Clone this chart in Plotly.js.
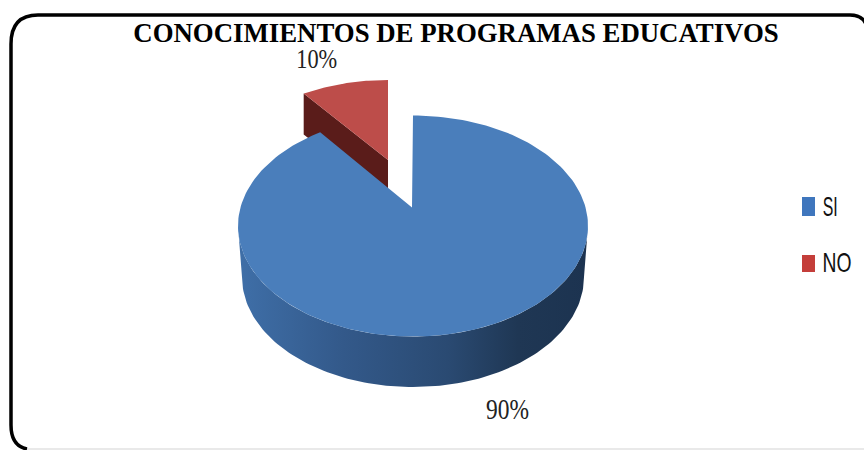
<!DOCTYPE html>
<html>
<head>
<meta charset="utf-8">
<script src="https://cdn.plot.ly/plotly-3.0.1.min.js"></script>
<style>html,body{margin:0;padding:0;background:#fff;overflow:hidden}</style>
</head>
<body>
<div id="chart" style="width:864px;height:450px"></div>
<script>
const chartTitle = 'CONOCIMIENTOS DE PROGRAMAS EDUCATIVOS';
const categories = ['SI', 'NO'];
const values = [90, 10];

const total = values[0] + values[1];
const noShare = values[1] / total;
function arc(cx, cy, rx, ry, from, to, n) {
  const xs = [], ys = [];
  for (let i = 0; i <= n; i++) {
    const t = (from + (to - from) * i / n) * Math.PI / 180;
    xs.push(cx + rx * Math.sin(t));
    ys.push(cy - ry * Math.cos(t));
  }
  return [xs, ys];
}
const siGap = 360 * noShare * 0.89, noSweep = 360 * noShare * 0.8;

// SI top face
const [sx, sy] = arc(413, 226, 175, 110.5, 0, 360 - siGap, 200);
const siTopX = [412, ...sx, 412], siTopY = [207.5, ...sy, 207.5];
// SI side wall
const [bx, by] = arc(413, 277, 171, 110, 90 + 180, 90, 120);
const [tx, ty] = arc(413, 226, 175, 110.5, 90, 270, 120);
const sideX = [...bx, ...tx], sideY = [...by, ...ty];
// NO top face
const [nx, ny] = arc(388, 190, 175, 110, -noSweep, 0, 40);
const noTopX = [388, ...nx, 388], noTopY = [160, ...ny, 160];
// NO cut wall
const cutX = [nx[0], 388, 388, nx[0]], cutY = [ny[0], 160, 200, ny[0] + 41];

function poly(x, y, name, fill, extra) {
  return Object.assign({x, y, name, type: 'scatter', mode: 'lines', fill: 'toself',
    fillcolor: fill, line: {width: 0, color: fill}, hoverinfo: 'name', showlegend: false}, extra || {});
}
const traces = [
  poly(cutX, cutY, categories[1], '#5a1c1a'),
  poly(noTopX, noTopY, categories[1], '#bd4d4a'),
  poly(sideX, sideY, categories[0], '#2f5482', {fillgradient: {type: 'horizontal',
    colorscale: [[0, '#3f6fa8'], [0.3, '#33598a'], [0.6, '#2a4a72'], [0.8, '#1f3754'], [1, '#1c3350']]}}),
  poly(siTopX, siTopY, categories[0], '#4a7ebb')
];

const serif = '"Liberation Serif", serif', sans = '"Liberation Sans", sans-serif';
const layout = {
  width: 864, height: 450,
  margin: {l: 0, r: 0, t: 0, b: 0},
  paper_bgcolor: '#fff', plot_bgcolor: '#fff',
  showlegend: false,
  title: {text: '<b>' + chartTitle + '</b>', x: 456 / 864, y: 1 - 33 / 450, xanchor: 'center', yanchor: 'middle',
    font: {family: serif, size: 26.8, color: '#000'}},
  xaxis: {range: [0, 864], visible: false, fixedrange: true},
  yaxis: {range: [450, 0], visible: false, fixedrange: true},
  shapes: [
    {type: 'path', xref: 'x', yref: 'y', path: 'M 27,449 L 864,449', line: {color: '#e2e2e2', width: 1.5}},
    {type: 'path', xref: 'x', yref: 'y',
     path: 'M 866,24 Q 862,15 850,15 L 38,15 Q 11,15 11,44 L 11,425 Q 11,446 27,449',
     line: {color: '#000', width: 3.5}},
    {type: 'rect', xref: 'x', yref: 'y', x0: 802, x1: 815, y0: 197, y1: 216, fillcolor: '#3f76bd', line: {width: 0}},
    {type: 'rect', xref: 'x', yref: 'y', x0: 802, x1: 815, y0: 255, y1: 272, fillcolor: '#c43e3a', line: {width: 0}}
  ],
  annotations: [
    {x: 316.5, y: 59, xref: 'x', yref: 'y', text: values[1] + '%', showarrow: false,
     font: {family: serif, size: 27, color: '#222'}},
    {x: 507.5, y: 409, xref: 'x', yref: 'y', text: values[0] + '%', showarrow: false,
     font: {family: serif, size: 29, color: '#222'}},
    {x: 829.5, y: 206, xref: 'x', yref: 'y', text: categories[0], showarrow: false,
     font: {family: sans, size: 28, color: '#111'}},
    {x: 836.5, y: 262, xref: 'x', yref: 'y', text: categories[1], showarrow: false,
     font: {family: sans, size: 28, color: '#111'}}
  ]
};
// the reference's labels are tall and narrow: squeeze the real text to its measured width
const squeezedWidths = [41, 43, 15, 29];
Plotly.newPlot('chart', traces, layout, {displayModeBar: false, staticPlot: true}).then(gd => {
  gd.querySelectorAll('.annotation-text').forEach((el, i) => {
    el.setAttribute('textLength', squeezedWidths[i]);
    el.setAttribute('lengthAdjust', 'spacingAndGlyphs');
  });
});
</script>
</body>
</html>
